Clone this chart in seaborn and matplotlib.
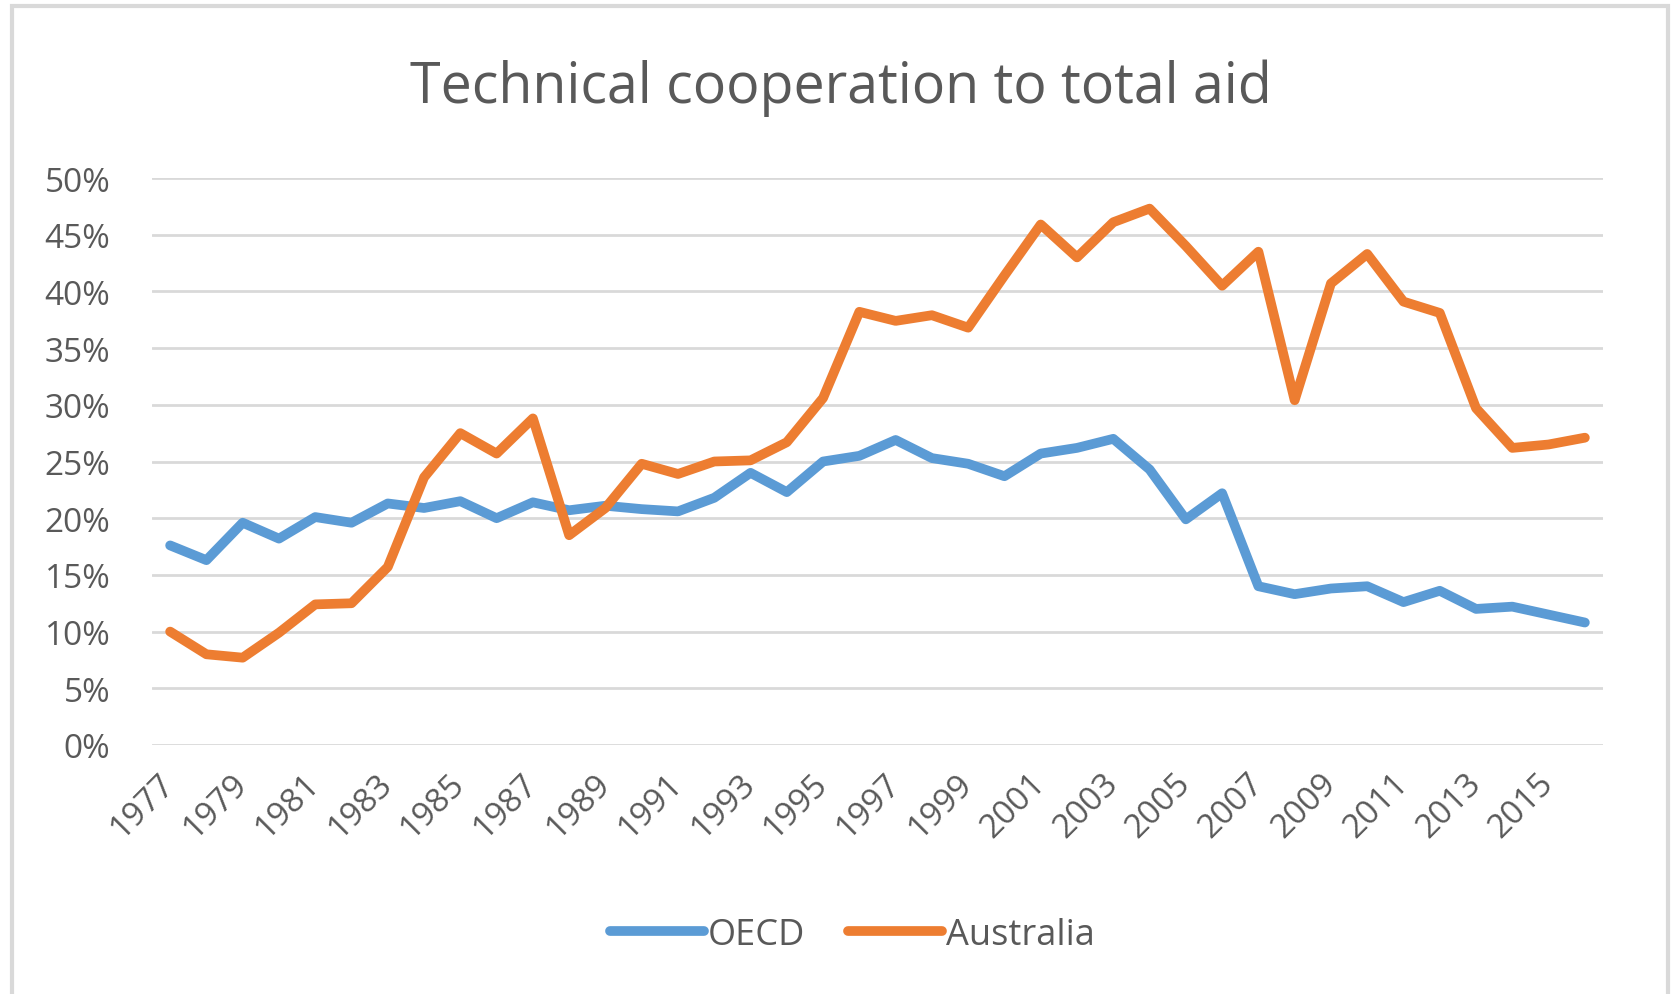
import pandas as pd
import numpy as np
import matplotlib
matplotlib.use("Agg")
import matplotlib.pyplot as plt
import seaborn as sns
from matplotlib.ticker import PercentFormatter
from matplotlib.patches import Rectangle

years = list(range(1977, 2017))
oecd = [17.6, 16.3, 19.6, 18.2, 20.1, 19.6, 21.3, 20.9, 21.5, 20.0,
        21.4, 20.7, 21.1, 20.8, 20.6, 21.8, 24.0, 22.3, 25.0, 25.5,
        26.9, 25.3, 24.8, 23.7, 25.7, 26.2, 27.0, 24.3, 19.9, 22.2,
        14.0, 13.3, 13.8, 14.0, 12.6, 13.6, 12.0, 12.2, 11.5, 10.8]
australia = [10.0, 8.0, 7.7, 9.9, 12.4, 12.5, 15.7, 23.6, 27.5, 25.7,
             28.8, 18.5, 20.9, 24.8, 23.9, 25.0, 25.1, 26.7, 30.6, 38.2,
             37.4, 37.9, 36.8, 41.4, 45.9, 43.0, 46.1, 47.3, 44.0, 40.5,
             43.5, 30.4, 40.7, 43.3, 39.1, 38.1, 29.7, 26.2, 26.5, 27.1]
series_names = ["OECD", "Australia"]
tick_years = list(range(1977, 2016, 2))

df = pd.DataFrame({"year": years * 2,
                   "share": oecd + australia,
                   "series": ["OECD"] * len(years) + ["Australia"] * len(years)})

sns.set_style("white")
plt.rcParams['font.family'] = ['Open Sans', 'DejaVu Sans']
grey = "#595959"

fig = plt.figure(figsize=(16.71, 9.95), dpi=100)
ax = fig.add_axes([152/1671, 1-746/995, (1603-152)/1671, (746-179)/995])

sns.lineplot(data=df, x="year", y="share", hue="series", hue_order=series_names,
             palette=["#5B9BD5", "#ED7D31"], linewidth=7, ax=ax, legend=False,
             solid_capstyle="round", solid_joinstyle="round")

ax.set_xlim(1976.5, 2016.5)
ax.set_ylim(0, 50)
ax.set_yticks(range(0, 51, 5))
ax.yaxis.set_major_formatter(PercentFormatter(xmax=100, decimals=0))
ax.set_xticks(tick_years)
ax.set_xticklabels([str(y) for y in tick_years], rotation=45, ha="right",
                   va="center", rotation_mode="anchor")
ax.tick_params(axis="both", length=0, labelsize=24, colors=grey)
ax.tick_params(axis="y", pad=30)
ax.tick_params(axis="x", pad=24)
ax.grid(axis="y", color="#D9D9D9", linewidth=2)
ax.set_axisbelow(True)
for s in ax.spines.values():
    s.set_visible(False)
ax.set_xlabel("")
ax.set_ylabel("")

fig.text(0.503, 1-103/995, "Technical cooperation to total aid", ha="center",
         va="baseline", fontsize=40, color=grey)

handles = [plt.Line2D([], [], color=c, lw=7, solid_capstyle="round")
           for c in ["#5B9BD5", "#ED7D31"]]
leg = fig.legend(handles, series_names, loc="center", bbox_to_anchor=(0.51, 1-936/995),
                 ncol=2, frameon=False, fontsize=26, handlelength=2.6,
                 handletextpad=0.1, columnspacing=1.2)
for t in leg.get_texts():
    t.set_color(grey)

fig.patches.append(Rectangle((12/1671, -0.05), (1668-12)/1671, 1.05-7/995,
                             transform=fig.transFigure, fill=False,
                             edgecolor="#D9D9D9", linewidth=3))

fig.savefig("out.png", dpi=100)
